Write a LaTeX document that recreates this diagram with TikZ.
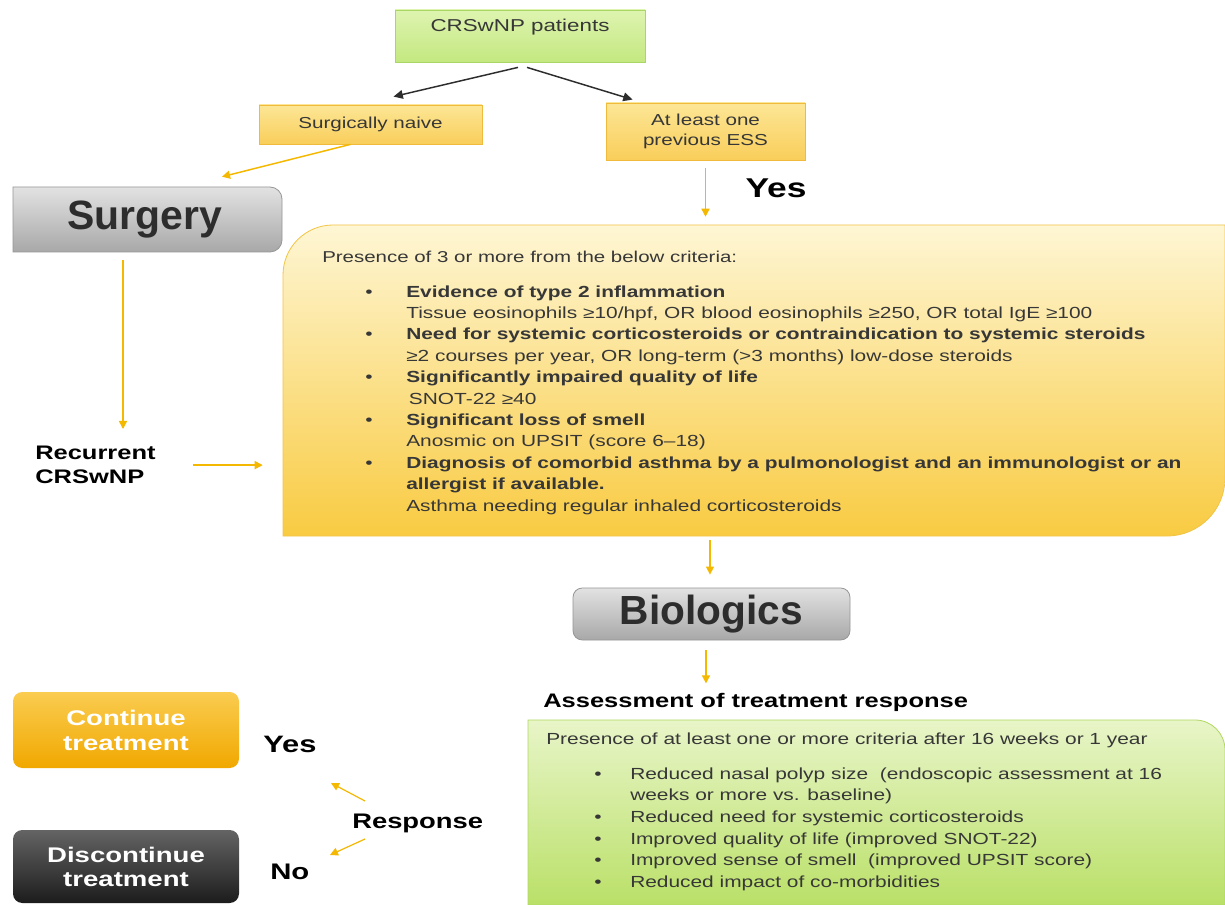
\documentclass[tikz,border=0pt]{standalone}
\usepackage{fontspec}
\setmainfont[FakeStretch=1.3]{Liberation Sans}
\newfontfamily\plainfont{Liberation Sans}
\usetikzlibrary{calc,arrows.meta}
\definecolor{amber}{RGB}{245,184,0}
\definecolor{darkline}{RGB}{45,45,45}
\definecolor{txt}{RGB}{55,55,55}
\definecolor{crstop}{RGB}{222,244,176}
\definecolor{crsbot}{RGB}{196,232,128}
\definecolor{crsborder}{RGB}{170,214,100}
\definecolor{ytop}{RGB}{252,230,150}
\definecolor{ybot}{RGB}{249,206,90}
\definecolor{yborder}{RGB}{240,186,60}
\definecolor{gtop}{RGB}{226,226,226}
\definecolor{gbot}{RGB}{168,168,168}
\definecolor{gborder}{RGB}{150,150,150}
\definecolor{bigtop}{RGB}{254,246,212}
\definecolor{bigbot}{RGB}{249,203,66}
\definecolor{bigborder}{RGB}{242,196,70}
\definecolor{grtop}{RGB}{232,245,200}
\definecolor{grbot}{RGB}{186,224,104}
\definecolor{grborder}{RGB}{176,216,96}
\definecolor{ctop}{RGB}{250,204,80}
\definecolor{cbot}{RGB}{241,168,0}
\definecolor{dtop}{RGB}{100,100,100}
\definecolor{dbot}{RGB}{28,28,28}
\tikzset{
  yarr/.style={draw=amber, line width=1.1pt, -{Triangle[length=6pt,width=6pt]}},
  darr/.style={draw=darkline, line width=1.1pt, -{Triangle[length=7pt,width=6.5pt]}},
  ybox/.style={draw=yborder, line width=0.6pt, top color=ytop, bottom color=ybot, inner sep=0, text=txt, align=center},
  graybox/.style={draw=gborder, line width=0.6pt, top color=gtop, bottom color=gbot, rounded corners=7pt, inner sep=0, text=darkline},
  lbl/.style={inner sep=0, text=black},
}
\newcommand\hdr[1]{{\fontsize{11.8}{16.05}\selectfont #1}}
\begin{document}
\begin{tikzpicture}[x=0.75pt,y=-0.75pt]
\useasboundingbox (0,0) rectangle (1225,905);
\fill[white] (0,0) rectangle (1225,905);

% top box
\node[draw=crsborder, line width=0.6pt, top color=crstop, bottom color=crsbot, minimum width=187.5pt, minimum height=39pt, inner sep=0] (crs) at (520,36) {};
\node[inner sep=0, anchor=base, text=txt, font=\fontsize{12.9}{15}\selectfont] (crslabel) at (520,32) {CRSwNP patients};

\node[ybox, minimum width=167.25pt, minimum height=29.25pt, font=\fontsize{11.9}{15}\selectfont] (naive) at (370.5,124.5) {Surgically naive};
\node[ybox, minimum width=149.25pt, minimum height=42.75pt, font=\fontsize{11.9}{15}\selectfont] (ess) at (705.5,131.5) {At least one\\previous ESS};

\draw[darr] ($(crs.south)+(-2,5)$) -- ($(naive.north)+(23,-8)$);
\draw[darr] ($(crs.south)+(7,5)$) -- ($(ess.north west)+(27,-3)$);

% surgery box (right corners rounded)
\path[draw=gborder, line width=0.6pt, top color=gtop, bottom color=gbot]
  (13,187) -- (270,187) .. controls (276.6,187) and (282,192.4) .. (282,199)
  -- (282,240) .. controls (282,246.6) and (276.6,252) .. (270,252) -- (13,252) -- cycle;
\node[inner sep=0, minimum width=201.75pt, minimum height=48.75pt, text=darkline, font=\plainfont\bfseries\fontsize{30.7}{34}\selectfont] (surgery) at (145,219.5) {Surgery};

\draw[yarr] ($(naive.south)+(-20,0)$) -- ($(surgery.north)+(77,-10)$);

% big criteria box
\path[draw=bigborder, line width=0.6pt, top color=bigtop, bottom color=bigbot]
  (283,536) -- (283,275) .. controls (283,247.4) and (305.4,225) .. (333,225)
  -- (1225,225) -- (1225,478) .. controls (1225,510) and (1199,536) .. (1167,536) -- cycle;
\node[inner sep=0, minimum width=706.5pt, minimum height=233.25pt] (critbox) at (754,380.5) {};

\draw[yarr] ($(ess.south)+(0,8)$) -- ($(ess.south |- critbox.north)+(0,-8)$);
\node[lbl, anchor=base, font=\bfseries\fontsize{20.4}{24}\selectfont] (yes1) at (776,198) {Yes};

\node[anchor=north west, inner sep=0, align=left, text=txt, font=\fontsize{12.05}{16.05}\selectfont] (crittext) at (322,250.5) {%
\hdr{Presence of 3 or more from the below criteria:}\\[10.2pt]
\hspace*{32.25pt}\makebox[30.75pt][l]{\textbullet}\textbf{Evidence of type 2 inflammation}\\
\hspace*{63pt}Tissue eosinophils ≥10/hpf, OR blood eosinophils ≥250, OR total IgE ≥100\\
\hspace*{32.25pt}\makebox[30.75pt][l]{\textbullet}\textbf{Need for systemic corticosteroids or contraindication to systemic steroids}\\
\hspace*{63pt}≥2 courses per year, OR long-term (>3 months) low-dose steroids\\
\hspace*{32.25pt}\makebox[30.75pt][l]{\textbullet}\textbf{Significantly impaired quality of life}\\
\hspace*{65pt}SNOT-22 ≥40\\
\hspace*{32.25pt}\makebox[30.75pt][l]{\textbullet}\textbf{Significant loss of smell}\\
\hspace*{63pt}Anosmic on UPSIT (score 6–18)\\
\hspace*{32.25pt}\makebox[30.75pt][l]{\textbullet}\textbf{Diagnosis of comorbid asthma by a pulmonologist and an immunologist or an}\\
\hspace*{63pt}\textbf{allergist if available.}\\
\hspace*{63pt}Asthma needing regular inhaled corticosteroids};

% recurrent
\node[lbl, anchor=north west, align=left, font=\bfseries\fontsize{14.7}{18}\selectfont] (recur) at (35,446) {Recurrent\\CRSwNP};
\draw[yarr] ($(surgery.south)+(-22,8)$) -- ($(surgery.south |- recur.north)+(-22,-17)$);
\draw[yarr] ($(recur.east)+(37,0)$) -- ($(critbox.west |- recur.east)+(-20,0)$);

% biologics
\node[graybox, minimum width=207.75pt, minimum height=39pt, font=\plainfont\bfseries\fontsize{30.5}{34}\selectfont] (bio) at (711.5,614) {Biologics};
\draw[yarr] ($(bio.north)+(-1.5,-48)$) -- ($(bio.north)+(-1.5,-13)$);
\draw[yarr] ($(bio.south)+(-5.5,10)$) -- ($(bio.south)+(-5.5,43)$);

\node[lbl, anchor=base west, font=\bfseries\fontsize{14.7}{18}\selectfont] (assess) at (543,707) {Assessment of treatment response};

% green box
\path[draw=grborder, line width=0.6pt, top color=grtop, bottom color=grbot]
  (528,905) -- (528,720) -- (1195,720) .. controls (1211.6,720) and (1225,733.4) .. (1225,750) -- (1225,905) -- cycle;
\node[anchor=north west, inner sep=0, align=left, text=txt, font=\fontsize{12.05}{16.2}\selectfont] (resptext) at (546,732.5) {%
Presence of at least one or more criteria after 16 weeks or 1 year\\[10pt]
\hspace*{36pt}\makebox[27pt][l]{\textbullet}Reduced nasal polyp size\ \ (endoscopic assessment at 16\\
\hspace*{63pt}weeks or more vs. baseline)\\
\hspace*{36pt}\makebox[27pt][l]{\textbullet}Reduced need for systemic corticosteroids\\
\hspace*{36pt}\makebox[27pt][l]{\textbullet}Improved quality of life (improved SNOT-22)\\
\hspace*{36pt}\makebox[27pt][l]{\textbullet}Improved sense of smell\ \ (improved UPSIT score)\\
\hspace*{36pt}\makebox[27pt][l]{\textbullet}Reduced impact of co-morbidities};

% outcome boxes
\node[draw=none, top color=ctop, bottom color=cbot, rounded corners=7pt, minimum width=169.5pt, minimum height=57pt, inner sep=0, align=center, text=white, font=\bfseries\fontsize{15.9}{18.75}\selectfont] (cont) at (126,730) {Continue\\treatment};
\node[draw=none, top color=dtop, bottom color=dbot, rounded corners=7pt, minimum width=169.5pt, minimum height=54.75pt, inner sep=0, align=center, text=white, font=\bfseries\fontsize{15.9}{18}\selectfont] (disc) at (126,866.5) {Discontinue\\treatment};

\node[lbl, anchor=base west, font=\bfseries\fontsize{17.8}{20}\selectfont] (yes2) at (263,752) {Yes};
\node[lbl, anchor=base west, font=\bfseries\fontsize{16.9}{20}\selectfont] (no) at (270,879) {No};
\node[lbl, anchor=base west, font=\bfseries\fontsize{15.8}{20}\selectfont] (resp) at (352,828) {Response};
\draw[yarr, line width=0.9pt] ($(resp.base west)+(13,-27)$) -- ($(resp.base west)+(-21,-45)$);
\draw[yarr, line width=0.9pt] ($(resp.base west)+(13,11)$) -- ($(resp.base west)+(-22,27)$);
\end{tikzpicture}
\end{document}
